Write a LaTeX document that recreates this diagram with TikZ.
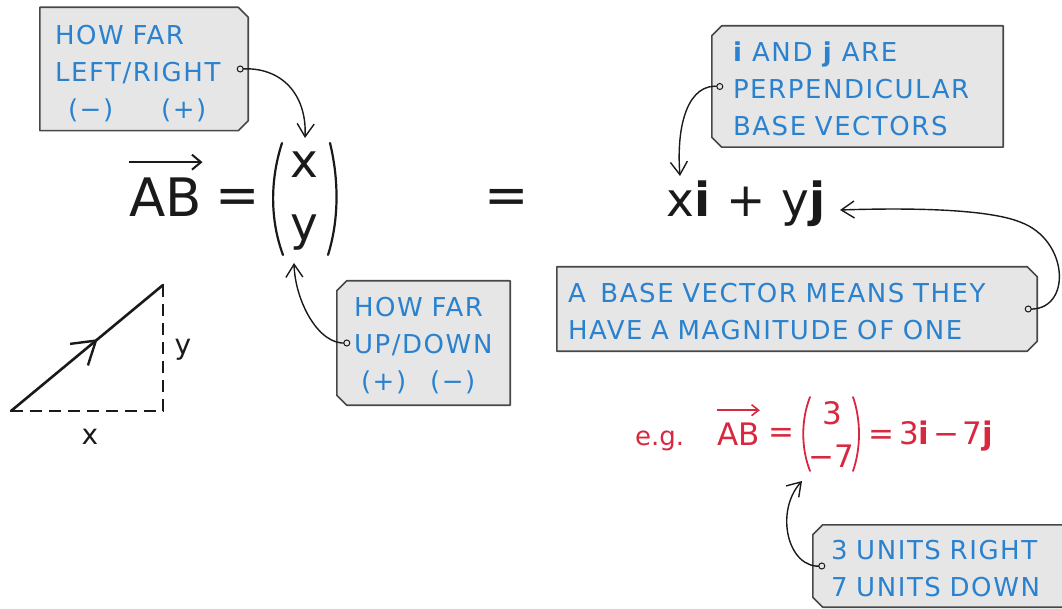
\documentclass[tikz,border=0pt]{standalone}
\usepackage{fontspec}
\setmainfont{DejaVu Sans}
\usetikzlibrary{arrows.meta,backgrounds,decorations.markings}
\definecolor{tagblue}{HTML}{2A82CF}
\definecolor{tagfill}{HTML}{E6E6E6}
\definecolor{tagedge}{HTML}{474747}
\definecolor{egred}{HTML}{D8283F}
\definecolor{ink}{HTML}{1A1A1A}
\newcommand\tagfont{\fontsize{26}{37}\selectfont\addfontfeatures{LetterSpace=6}}
\newcommand\tagR[1]{\draw[tagshape] (#1.north west) -- ([xshift=-10pt]#1.north east) -- ([yshift=-10pt]#1.north east) -- ([yshift=10pt]#1.south east) -- ([xshift=-10pt]#1.south east) -- (#1.south west) -- cycle;}
\newcommand\tagL[1]{\draw[tagshape] (#1.north east) -- ([xshift=10pt]#1.north west) -- ([yshift=-10pt]#1.north west) -- ([yshift=10pt]#1.south west) -- ([xshift=10pt]#1.south west) -- (#1.south east) -- cycle;}
\tikzset{
  tag/.style={font=\tagfont, text=tagblue, align=left, inner ysep=0pt, anchor=center},
  tagshape/.style={draw=tagedge, fill=tagfill, line width=1.6pt, line join=round},
  conn/.style={draw=ink, line width=1.4pt, -{Straight Barb[length=13pt,width=17pt,line width=1.4pt]}},
  hole/.style={draw=ink, fill=tagfill, line width=1pt},
  bigtxt/.style={font=\fontsize{53}{60}\selectfont, text=ink, inner sep=0pt},
  midtxt/.style={font=\fontsize{47}{55}\selectfont, text=ink, inner sep=0pt},
  redtxt/.style={font=\fontsize{31}{36}\selectfont, text=egred, inner sep=0pt},
  paren/.style={draw=ink, line width=2.2pt, line cap=round},
  redparen/.style={draw=egred, line width=1.8pt, line cap=round},
  vecline/.style={draw=ink, line width=2.6pt, line cap=round},
  dashline/.style={draw=ink, line width=2.3pt, dash pattern=on 12pt off 7pt},
}
\begin{document}
\begin{tikzpicture}[x=1pt,y=-1pt]
\useasboundingbox (0,0) rectangle (1062,609);

% ---------- tags ----------
\node[tag, text width=178pt, inner xsep=15pt, minimum height=123pt] (t1) at (144,69)
  {\rule{0pt}{28pt}HOW FAR\\LEFT/RIGHT\\\hspace*{13pt}(−)\hspace{48pt}(+)};
\node[tag, text width=249pt, inner xsep=21pt, minimum height=121pt] (t2) at (857.5,86.5)
  {\rule{0pt}{24pt}\textbf{i} AND \textbf{j} ARE\\PERPENDICULAR\\BASE VECTORS};
\node[tag, text width=458pt, inner xsep=11pt, minimum height=84pt] (t3) at (797,309)
  {\rule{0pt}{24pt}A\hspace{6pt} BASE VECTOR MEANS THEY\\HAVE A MAGNITUDE OF ONE};
\node[tag, text width=139pt, inner xsep=17pt, minimum height=124pt] (t4) at (423.5,343)
  {\rule{0pt}{24pt}HOW FAR\\UP/DOWN\\\hspace*{7pt}(+)\hspace{24pt}(−)};
\node[tag, text width=231pt, inner xsep=18pt, minimum height=82pt] (t5) at (946.5,566)
  {\rule{0pt}{25pt}3 UNITS RIGHT\\7 UNITS DOWN};
\begin{scope}[on background layer]
  \tagR{t1}\tagL{t2}\tagR{t3}\tagL{t4}\tagL{t5}
\end{scope}

% ---------- main equation ----------
\node[bigtxt, anchor=base] (AB) at (166,217) {AB};
\draw[draw=ink, line width=2pt, -{Straight Barb[length=9pt,width=15pt,line width=2pt]}]
  ([yshift=16pt]AB.north west) -- ([yshift=16pt]AB.north east);
\node[bigtxt] (eq1) at (238,201) {=};
\node[midtxt] (mx) at (304,165) {x};
\node[midtxt] (my) at (304,233) {y};
\draw[paren] (282,143) .. controls (270,180) and (270,220) .. (283,255);
\draw[paren] (330,143) .. controls (339,180) and (339,220) .. (328,255);
\node[bigtxt] (eq2) at (507,201) {=};
\node[midtxt, anchor=base west] (rhs) at (666,217) {x\textbf{i}\hspace{16pt}+\hspace{16pt}y\textbf{j}};

% ---------- triangle ----------
\coordinate (O) at (11,411);
\coordinate (P) at (163,285);
\coordinate (Q) at (163,411);
\draw[dashline] (O) -- (Q) -- (P);
\draw[vecline, postaction={decorate}, decoration={markings,
  mark=at position 0.57 with {\arrow{Straight Barb[length=22pt,width=28pt,line width=2.4pt]}}}] (O) -- (P);
\node[font=\fontsize{28}{32}\selectfont, text=ink] (lx) at (90,437) {x};
\node[font=\fontsize{28}{32}\selectfont, text=ink] (ly) at (183,350) {y};

% ---------- red example ----------
\node[font=\fontsize{26}{30}\selectfont, text=egred, inner sep=0pt, anchor=base west] (eg) at (635,445) {e.g.};
\node[redtxt, anchor=base west] (rAB) at (717,445) {AB};
\draw[draw=egred, line width=1.6pt, -{Straight Barb[length=7pt,width=11pt,line width=1.6pt]}]
  ([yshift=12pt]rAB.north west) -- ([yshift=12pt]rAB.north east);
\node[redtxt] (req1) at (781,435) {=};
\node[redtxt] (r3) at (832,413) {3};
\node[redtxt] (r7) at (831,456) {−7};
\draw[redparen] (810,397) .. controls (801,420) and (801,448) .. (810,471);
\draw[redparen] (853,397) .. controls (861,420) and (861,448) .. (853,471);
\node[redtxt, anchor=base west] (req2) at (868,444) {=\hspace{5pt}3\textbf{i}\hspace{4pt}−\hspace{3pt}7\textbf{j}};

% ---------- connectors ----------
\coordinate (h1) at ([xshift=-8pt]t1.east);
\coordinate (h2) at ([xshift=8pt]t2.west);
\coordinate (h3) at ([xshift=-9pt]t3.east);
\coordinate (h4) at ([xshift=10pt]t4.west);
\coordinate (h5) at ([xshift=9pt]t5.west);
\coordinate (a1) at (305,138);
\coordinate (a2) at (680,176);
\coordinate (a3) at (840,210);
\coordinate (a4) at (294,263);
\coordinate (a5) at (802,481);
\draw[conn] (h1) .. controls (282,66) and (307,95) .. (a1);
\draw[conn] (h2) .. controls (688,82) and (676,125) .. (a2);
\draw[conn] (h3) .. controls (1072,312) and (1070,240) .. (1020,222) .. controls (985,208) and (900,208) .. (a3);
\draw[conn] (h4) .. controls (318,346) and (295,300) .. (a4);
\draw[conn] (h5) .. controls (788,570) and (774,512) .. (a5);
\foreach \h in {h1,h2,h3,h4,h5} \draw[hole] (\h) circle (3pt);
\end{tikzpicture}
\end{document}
